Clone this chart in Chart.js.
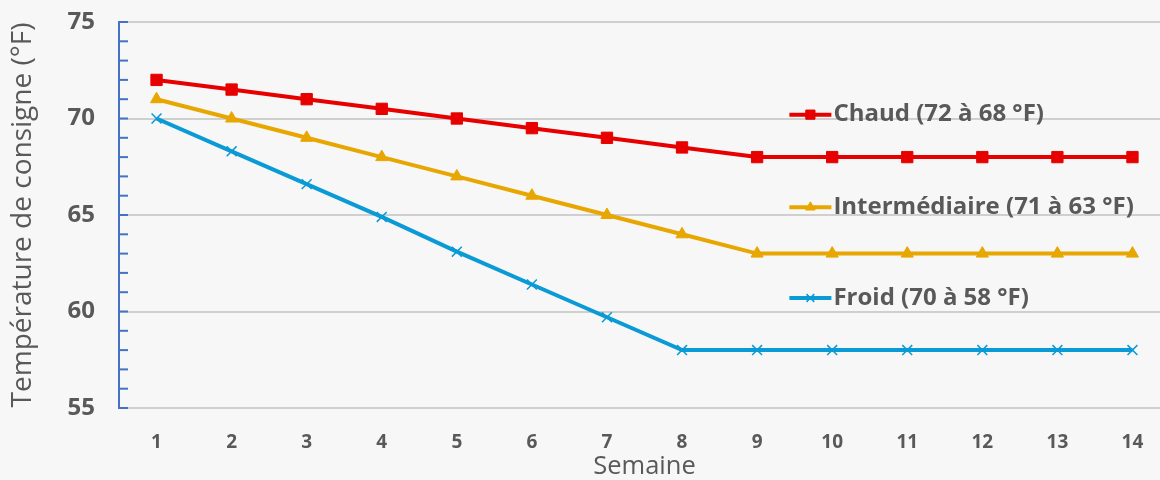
<!DOCTYPE html>
<html>
<head>
<meta charset="utf-8">
<script src="https://cdn.jsdelivr.net/npm/chart.js@4.4.0/dist/chart.umd.min.js"></script>
<style>
  html, body { margin: 0; padding: 0; background: #f7f7f7; overflow: hidden; }
  #wrap { width: 1179px; height: 480px; }
</style>
</head>
<body>
<div id="wrap"><canvas id="myChart" width="1179" height="480"></canvas></div>
<script>
// semaines 1..14
var weeks = ["1","2","3","4","5","6","7","8","9","10","11","12","13","14"];
var chaud = [72, 71.5, 71, 70.5, 70, 69.5, 69, 68.5, 68, 68, 68, 68, 68, 68];
var intermediaire = [71, 70, 69, 68, 67, 66, 65, 64, 63, 63, 63, 63, 63, 63];
var froid = [70, 68.3, 66.6, 64.9, 63.1, 61.4, 59.7, 58, 58, 58, 58, 58, 58, 58];
var seriesNames = ["Chaud (72 à 68 °F)", "Intermédiaire (71 à 63 °F)", "Froid (70 à 58 °F)"];
var yTicks = [55, 60, 65, 70, 75];

var grey = "#595959";
var font = "'Open Sans', sans-serif";

// étiquettes dans le graphique + petites graduations de l'axe Y
var inlineLabels = {
  id: "inlineLabels",
  afterDatasetsDraw: function(chart) {
    var c = chart.ctx;
    var xs = chart.scales.x, ys = chart.scales.y;
    var spots = [70.2, 65.4, 60.7];
    chart.data.datasets.forEach(function(ds, i) {
      var x0 = xs.getPixelForValue(8.43);
      var y = ys.getPixelForValue(spots[i]);
      c.save();
      c.strokeStyle = ds.borderColor;
      c.fillStyle = ds.borderColor;
      c.lineWidth = 4;
      c.beginPath();
      c.moveTo(x0, y);
      c.lineTo(x0 + 42, y);
      c.stroke();
      c.lineWidth = ds.pointBorderWidth;
      Chart.helpers.drawPoint(c, {
        pointStyle: ds.pointStyle, radius: ds.pointRadius - 1.5, borderWidth: ds.pointBorderWidth
      }, x0 + 21, y);
      c.fillStyle = grey;
      c.font = "bold 24px " + font;
      c.textBaseline = "middle";
      c.fillText(seriesNames[i], x0 + 44, y);
      c.restore();
    });
    // graduations mineures
    c.save();
    c.strokeStyle = "#4472c4";
    c.lineWidth = 2;
    for (var v = 55; v <= 75; v++) {
      var py = ys.getPixelForValue(v);
      c.beginPath();
      c.moveTo(ys.right, py);
      c.lineTo(ys.right + 9, py);
      c.stroke();
    }
    c.restore();
  }
};

var ctx = document.getElementById("myChart");
var myChart = new Chart(ctx, {
  type: "line",
  data: {
    labels: weeks,
    datasets: [{
      label: seriesNames[0],
      data: chaud,
      borderColor: "#e60000",
      backgroundColor: "#e60000",
      borderWidth: 4,
      pointStyle: "rect",
      pointRadius: 8,
      pointBorderWidth: 1
    }, {
      label: seriesNames[1],
      data: intermediaire,
      borderColor: "#e8a600",
      backgroundColor: "#e8a600",
      borderWidth: 4,
      pointStyle: "triangle",
      pointRadius: 7,
      pointBorderWidth: 1
    }, {
      label: seriesNames[2],
      data: froid,
      borderColor: "#0a9ad6",
      backgroundColor: "#0a9ad6",
      borderWidth: 4,
      pointStyle: "crossRot",
      pointRadius: 7,
      pointBorderWidth: 1.5
    }]
  },
  options: {
    responsive: false,
    animation: false,
    layout: { padding: { top: 0, right: 1, left: 0, bottom: 0 } },
    plugins: {
      legend: { display: false },
      tooltip: { enabled: false }
    },
    scales: {
      x: {
        offset: true,
        grid: { display: false, drawTicks: false },
        border: { display: false },
        ticks: { color: grey, font: { family: font, size: 19, weight: "bold" }, padding: 23, maxRotation: 0 },
        title: { display: true, text: "Semaine", color: grey, font: { family: font, size: 25.5 }, padding: { top: 2, bottom: -2 } },
        afterFit: function(s) { s.height = 72; s.paddingLeft = 0; s.paddingRight = 0; }
      },
      y: {
        min: 55,
        max: 75,
        afterBuildTicks: function(s) { s.ticks = yTicks.map(function(v) { return { value: v }; }); },
        grid: { color: "#cfcfcf", lineWidth: 2, drawTicks: false },
        border: { display: true, color: "#4472c4", width: 2 },
        ticks: { color: grey, font: { family: font, size: 24, weight: "bold" }, padding: 24 },
        title: { display: true, text: "Température de consigne (°F)", color: grey, font: { family: font, size: 28 }, padding: { top: 6, bottom: 0 } },
        afterFit: function(s) { s.width = 119; s.paddingTop = 22; s.paddingBottom = 0; }
      }
    }
  },
  plugins: [inlineLabels]
});
</script>
</body>
</html>
